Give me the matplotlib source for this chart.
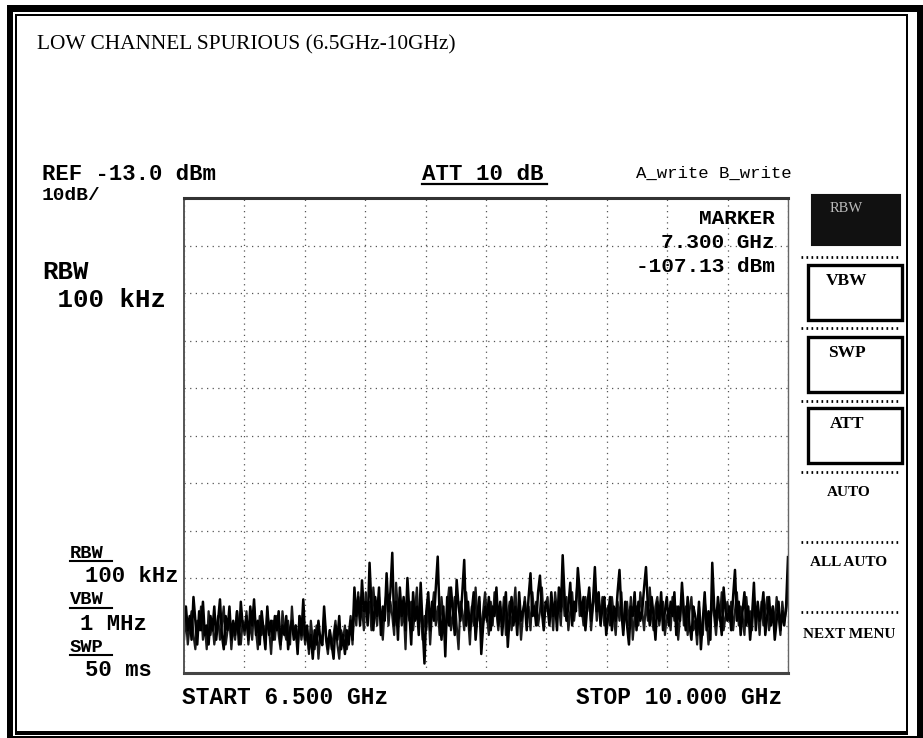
import numpy as np
import matplotlib
matplotlib.use("Agg")
import matplotlib.pyplot as plt
from matplotlib.patches import Rectangle

# ---- instrument settings ----
title = "LOW CHANNEL SPURIOUS (6.5GHz-10GHz)"
start_ghz = 6.5
stop_ghz = 10.0
ref_level_dbm = -13.0
db_per_div = 10
n_div = 10
att_db = 10
rbw_text = "100 kHz"
vbw_text = "1 MHz"
swp_text = "50 ms"
marker_ghz = 7.300
marker_dbm = -107.13
menu_boxed = ["RBW", "VBW", "SWP", "ATT"]
menu_plain = ["AUTO", "ALL AUTO", "NEXT MENU"]

# ---- trace A (dBm), write mode ----
trace_a_dbm = [
    -103, -99, -104, -101, -106, -97, -102, -107, -100, -104,
    -98, -105, -103, -107, -101, -104, -99, -106, -102, -97.5,
    -105, -108, -101, -104, -99, -106, -102, -105, -100, -107,
    -98, -103,
    -104, -101, -106, -99, -103, -97.5, -105, -102, -107, -100,
    -104, -108, -99, -105, -102, -106, -101, -104, -100, -107,
    -103, -105, -101, -108, -104, -102, -106, -103, -109, -101,
    -105, -97.5,
    -106, -103, -108, -105, -110, -104, -107, -102, -106, -107.13,
    -99, -105, -108, -104, -107, -110, -103, -106, -101, -108,
    -105, -109, -104, -107, -102, -106, -95, -101, -97, -103,
    -93.5, -100,
    -98, -103, -89.8, -99, -104, -97, -101, -95, -105, -99,
    -102, -92, -100, -96, -87.7, -103, -98, -106, -95, -101,
    -97, -104, -93, -100, -107, -96, -102, -99, -105, -94,
    -103, -111,
    -100, -96, -104, -98, -102, -95, -88.5, -101, -106, -99,
    -109.5, -97, -103, -95, -100, -105, -93.4, -99, -102, -96,
    -89.2, -103, -98, -104, -100, -96, -106, -101, -97, -109,
    -103, -99,
    -102, -97, -104, -99, -101, -95, -103, -98, -105, -100,
    -96, -107.5, -101, -97, -103, -99, -105, -96, -102, -100,
    -98, -104, -97, -92, -101, -99, -103, -96, -92.5, -100,
    -104, -98,
    -99, -103, -96, -101, -98, -104, -95, -100, -88.2, -97,
    -102, -99, -94, -103, -98, -100, -90.9, -96, -101, -97,
    -104, -99, -95, -102, -98, -90.7, -100, -96, -103, -99,
    -97, -105,
    -101, -97, -104, -99, -102, -96, -91.3, -100, -105, -98,
    -103, -107, -99, -101, -96, -104, -98, -102, -100, -95,
    -90.7, -99, -103, -97, -101, -106, -98, -102, -96, -104,
    -100, -97,
    -103, -98, -101, -96, -105, -99, -102, -94, -100, -104,
    -97, -103, -106, -99, -101, -105, -98, -108, -102, -96,
    -104, -100, -106, -89.8, -99, -103, -97, -101, -105, -95,
    -100, -102,
    -99, -104, -97, -91.3, -102, -98, -105, -100, -96, -103,
    -99, -106, -101, -94, -104, -98, -102, -100, -96, -105,
    -101, -97, -103, -99, -106, -102, -98, -104, -100, -103,
    -99, -88.6,
]

# ---- trace B (dBm), write mode ----
trace_b_dbm = [
    -106, -101, -107, -103, -100, -105, -108, -102, -104, -99,
    -106, -103, -108, -100, -105, -102, -107, -104, -101, -106,
    -103, -99, -107, -104, -101, -108, -103, -106, -100, -104,
    -107, -102,
    -105, -100, -107, -102, -106, -99, -104, -108, -101, -105,
    -103, -107, -100, -104, -109, -102, -106, -101, -105, -108,
    -100, -104, -106, -102, -107, -99, -105, -103, -108, -101,
    -106, -103,
    -107, -104, -109, -102, -106, -108, -103, -110, -105, -107,
    -101, -106, -109, -104, -108, -105, -102, -107, -110, -104,
    -106, -103, -108, -105, -101, -107, -98, -103, -96, -102,
    -99, -104,
    -96, -101, -98, -104, -95, -100, -103, -97, -102, -106,
    -99, -96, -103, -98, -101, -105, -94, -100, -97, -103,
    -99, -108, -96, -102, -98, -104, -100, -95, -103, -99,
    -106, -101,
    -104, -98, -107, -100, -96, -103, -99, -105, -97, -102,
    -106, -99, -95, -104, -101, -97, -103, -108, -98, -100,
    -104, -96, -101, -107, -99, -103, -95, -102, -98, -105,
    -100, -96,
    -101, -105, -98, -103, -96, -100, -104, -99, -102, -97,
    -105, -101, -98, -104, -100, -95, -103, -99, -106, -101,
    -97, -102, -99, -104, -96, -101, -98, -103, -100, -95,
    -102, -99,
    -97, -102, -99, -104, -96, -100, -98, -103, -95, -101,
    -97, -104, -100, -96, -102, -98, -93, -101, -99, -103,
    -97, -100, -96, -104, -99, -95, -102, -98, -101, -97,
    -103, -100,
    -99, -103, -97, -101, -105, -98, -102, -96, -104, -100,
    -98, -103, -97, -106, -101, -99, -103, -96, -100, -104,
    -98, -102, -95, -101, -104, -99, -97, -103, -100, -98,
    -105, -101,
    -100, -104, -97, -102, -99, -106, -101, -96, -103, -99,
    -105, -100, -97, -104, -102, -107, -99, -103, -105, -98,
    -101, -107, -103, -97, -101, -105, -99, -102, -96, -104,
    -101, -98,
    -102, -98, -104, -100, -96, -103, -99, -101, -105, -97,
    -102, -100, -104, -97, -101, -99, -105, -98, -103, -100,
    -97, -104, -101, -99, -103, -97, -101, -105, -98, -102,
    -100, -96,
]

W, H = 923, 738
MONO = "Liberation Mono"
SERIF = "Liberation Serif"

freq_a = np.linspace(start_ghz, stop_ghz, len(trace_a_dbm))
freq_b = np.linspace(start_ghz, stop_ghz, len(trace_b_dbm))
bottom_dbm = ref_level_dbm - db_per_div * n_div

fig = plt.figure(figsize=(W / 100, H / 100), dpi=100)
fig.patch.set_facecolor("white")

# measurement graticule and traces
ax = fig.add_axes([184 / W, 1 - 673 / H, 604 / W, 475 / H], zorder=1)
ax.set_xlim(start_ghz, stop_ghz)
ax.set_ylim(bottom_dbm, ref_level_dbm)
ax.set_xticks(np.linspace(start_ghz, stop_ghz, n_div + 1))
ax.set_yticks(np.linspace(bottom_dbm, ref_level_dbm, n_div + 1))
ax.tick_params(length=0, labelbottom=False, labelleft=False)
ax.grid(True, color="#555555", lw=0.9, ls=(0, (1, 3.5)))
for side, lw, col in [("top", 2.2, "#333333"), ("left", 1.4, "#555555"),
                      ("bottom", 2.2, "#444444"), ("right", 1.0, "#666666")]:
    ax.spines[side].set_linewidth(lw)
    ax.spines[side].set_color(col)
ax.plot(freq_b, trace_b_dbm, color="#1a1a1a", lw=1.6)
ax.plot(freq_a, trace_a_dbm, color="black", lw=1.8)

# page layer in pixel units (y downwards), drawn over the graticule
pg = fig.add_axes([0, 0, 1, 1], zorder=2)
pg.set_xlim(0, W)
pg.set_ylim(H, 0)
pg.axis("off")

# double frame round the page
for (x, y, w, h) in [(7, 5, W - 7, 7), (7, 5, 6, H - 5),
                     (W - 6, 5, 6, H - 5), (7, H - 2, W - 7, 2),
                     (15, 13.5, W - 30, 2), (15, 13.5, 2, H - 20),
                     (W - 17, 13.5, 2, H - 20), (15, H - 7, W - 30, 3.5)]:
    pg.add_patch(Rectangle((x, y), w, h, facecolor="black", edgecolor="none"))

pg.text(37, 45, title, family=SERIF, fontsize=15.4, va="center", ha="left")


def mono(x, y, s, size, ha="left", weight="bold", color="black"):
    pg.text(x, y, s, family=MONO, fontsize=size, fontweight=weight,
            ha=ha, va="center", color=color)


# header texts of the analyser screen
mono(42, 174, f"REF {ref_level_dbm:.1f} dBm", 16)
mono(42, 195, f"{db_per_div}dB/", 14)
mono(42, 272, "RBW", 18.5)
mono(42, 300, " " + rbw_text, 18.5)
mono(422, 175, f"ATT {att_db} dB", 16.2)
pg.plot([422, 547], [184, 184], color="black", lw=1.6)
mono(792, 173, "A_write B_write", 12.5, ha="right", weight="normal")

mono(775, 218, "MARKER", 15.2, ha="right")
mono(775, 242, f"{marker_ghz:.3f} GHz", 15.2, ha="right")
mono(775, 266, f"{marker_dbm:.2f} dBm", 15.2, ha="right")

# lower left settings block
for label, value, y, vx in [("RBW", rbw_text, 553, 85),
                            ("VBW", vbw_text, 600, 80),
                            ("SWP", swp_text, 647, 85)]:
    mono(70, y, label, 13.5)
    pg.plot([70, 112], [y + 8, y + 8], color="black", lw=1.5)
    mono(vx, y + 24, value, 16)

mono(182, 698, f"START {start_ghz:.3f} GHz", 16.5)
mono(782, 698, f"STOP {stop_ghz:.3f} GHz", 16.5, ha="right")

# soft-key menu on the right
box_tops = [195, 265, 337, 408]
for i, (name, top) in enumerate(zip(menu_boxed, box_tops)):
    if i == 0:
        pg.add_patch(Rectangle((812, top), 88, 50, facecolor="#111111",
                               edgecolor="#111111", lw=1.5))
        pg.text(846, top + 13, name, family=SERIF, fontsize=10.5,
                color="#bbbbbb", ha="center", va="center")
    else:
        pg.add_patch(Rectangle((808, top), 94, 55, facecolor="none",
                               edgecolor="black", lw=2.4))
        pg.text(847, top + 16, name, family=SERIF, fontsize=12.5,
                fontweight="bold", ha="center", va="center")
for y in [257, 328, 401, 472, 542, 612]:
    pg.plot([801, 901], [y, y], color="black", lw=2.0,
            ls=(0, (0.6, 1.2)))
for name, y in zip(menu_plain, [493, 563, 635]):
    pg.text(849, y, name, family=SERIF, fontsize=11, fontweight="bold",
            ha="center", va="center")

fig.savefig("out.png", dpi=100, facecolor="white")
